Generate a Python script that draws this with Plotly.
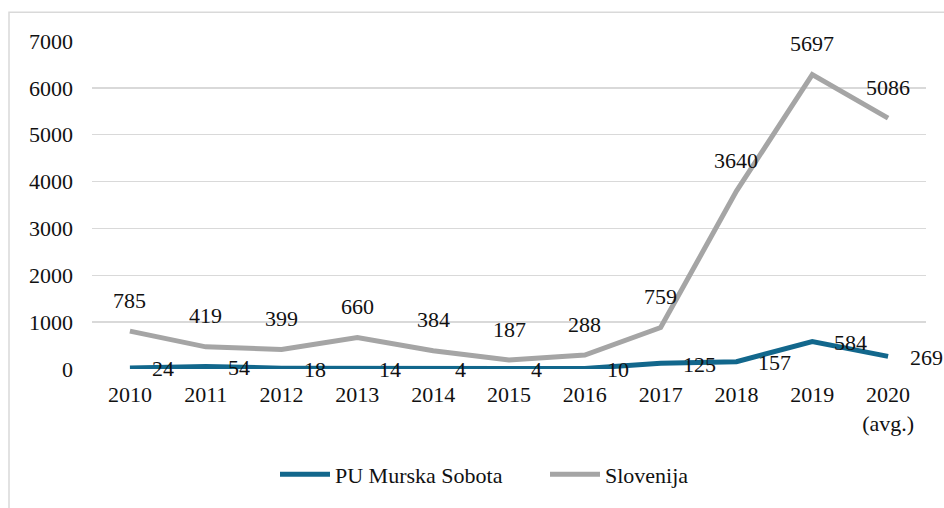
import numpy as np
import plotly.graph_objects as go

categories = ["2010", "2011", "2012", "2013", "2014", "2015", "2016", "2017", "2018", "2019", "2020<br>(avg.)"]
pu_murska_sobota = [24, 54, 18, 14, 4, 4, 10, 125, 157, 584, 269]
slovenija = [785, 419, 399, 660, 384, 187, 288, 759, 3640, 5697, 5086]
y_ticks = [0, 1000, 2000, 3000, 4000, 5000, 6000, 7000]

FONT = "Liberation Serif, Times New Roman, serif"
FS = 22
TXT = "#111111"
C_PU = "#12678C"
C_SI = "#A5A5A5"

fig = go.Figure()
# Excel stacked line chart: Slovenija is stacked on top of PU Murska Sobota
fig.add_trace(go.Scatter(x=categories, y=pu_murska_sobota, name="PU Murska Sobota",
                         mode="lines", stackgroup="s", fill="none",
                         line=dict(color=C_PU, width=5), hoverinfo="skip"))
fig.add_trace(go.Scatter(x=categories, y=slovenija, name="Slovenija",
                         mode="lines", stackgroup="s", fill="none",
                         line=dict(color=C_SI, width=5), hoverinfo="skip"))

stacked_top = np.array(pu_murska_sobota) + np.array(slovenija)
for i, v in enumerate(pu_murska_sobota):
    fig.add_annotation(x=i, y=v, text=str(v), showarrow=False, xanchor="left",
                       yanchor="middle", xshift=20, yshift=-1,
                       font=dict(family=FONT, size=FS, color=TXT))
for i, (v, s) in enumerate(zip(slovenija, stacked_top)):
    fig.add_annotation(x=i, y=s, text=str(v), showarrow=False, xanchor="center",
                       yanchor="middle", yshift=31,
                       font=dict(family=FONT, size=FS, color=TXT))

# outer chart border (Excel chart area)
fig.add_shape(type="rect", xref="paper", yref="paper",
              x0=(9 - 92) / 834, x1=(950 - 92) / 834,
              y0=(371 - 520) / 330, y1=(371 - 12) / 330,
              line=dict(color="#D9D9D9", width=1.5), fillcolor="rgba(0,0,0,0)", layer="below")

fig.update_layout(
    width=944, height=508,
    margin=dict(l=92, r=18, t=41, b=137),
    paper_bgcolor="white", plot_bgcolor="white",
    font=dict(family=FONT, size=FS, color=TXT),
    showlegend=True,
    legend=dict(orientation="h", x=(545 - 92) / 834, xanchor="center",
                y=(371 - 477) / 330, yanchor="middle",
                font=dict(family=FONT, size=FS, color=TXT), itemwidth=50,
                entrywidth=205, entrywidthmode="pixels",
                traceorder="normal", bgcolor="rgba(0,0,0,0)"),
)
fig.update_xaxes(type="category", range=[-0.5, 10.5], showgrid=False, showline=False,
                 ticks="", zeroline=False, tickfont=dict(family=FONT, size=FS, color=TXT),
                 ticklabelstandoff=10)
fig.update_yaxes(range=[0, 7000], tickvals=y_ticks, ticktext=[str(t) for t in y_ticks],
                 showgrid=True, gridcolor="#D9D9D9", gridwidth=1.5, zeroline=False,
                 showline=False, ticks="", ticklabelstandoff=18,
                 tickfont=dict(family=FONT, size=FS, color=TXT))

fig.write_html("out.html", config={"displayModeBar": False, "staticPlot": True},
               post_script="document.body.style.margin='0';document.body.style.overflow='hidden';")
